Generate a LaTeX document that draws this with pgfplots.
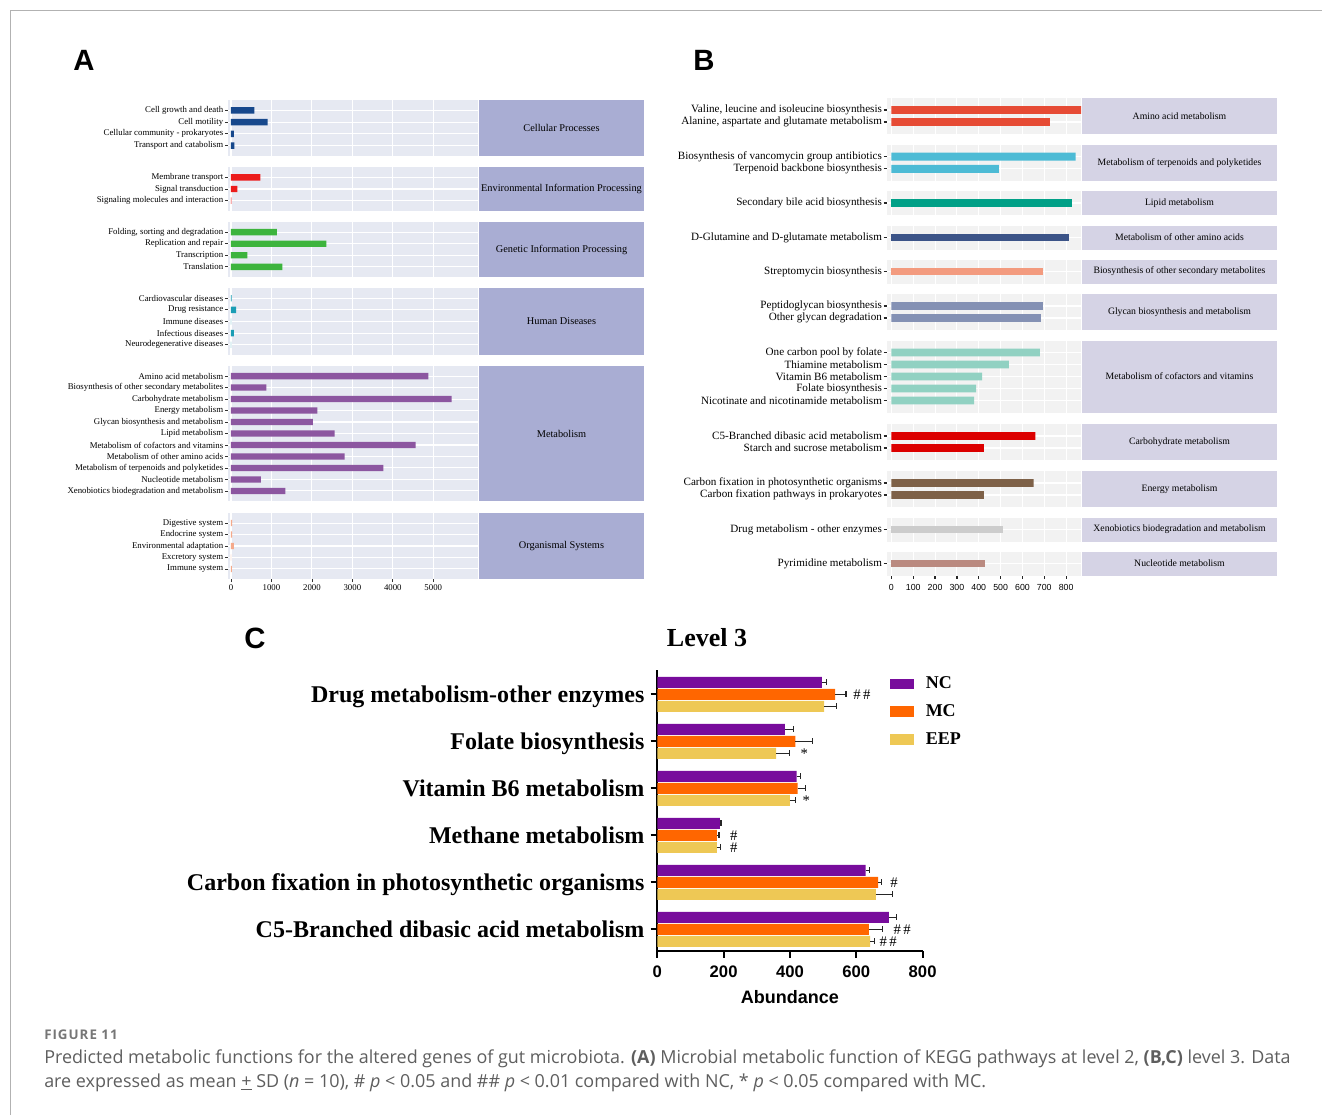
\documentclass[border=0pt]{standalone}
\usepackage{pgfplots}
\usepackage{pgfplotstable}
\pgfplotsset{compat=1.18}
\usepackage{fontspec}
\setmainfont{Liberation Serif}
\newfontfamily\arialf{Liberation Sans}
\newfontfamily\capf{Open Sans}
\newfontfamily\capwide[LetterSpace=7.5]{Open Sans}
\newcommand\fsz[1]{\fontsize{#1}{#1}\selectfont}

% panel backgrounds and facet strips
\definecolor{bgA}{HTML}{E6E9F2}
\definecolor{stripA}{HTML}{A9ADD3}
\definecolor{bgB}{HTML}{F2F2F2}
\definecolor{stripB}{HTML}{D5D3E5}
% level-2 groups
\definecolor{cpA}{HTML}{17488C}
\definecolor{envA}{HTML}{EC1C1C}
\definecolor{genA}{HTML}{3DB43D}
\definecolor{humA}{HTML}{1A9DB5}
\definecolor{metA}{HTML}{8C56A0}
\definecolor{orgA}{HTML}{F5A98A}
% level-3 groups
\definecolor{b1}{HTML}{E64B35}
\definecolor{b2}{HTML}{4DBBD5}
\definecolor{b3}{HTML}{00A087}
\definecolor{b4}{HTML}{3C5488}
\definecolor{b5}{HTML}{F39B7F}
\definecolor{b6}{HTML}{8491B4}
\definecolor{b7}{HTML}{91D1C2}
\definecolor{b8}{HTML}{DC0000}
\definecolor{b9}{HTML}{7E6148}
\definecolor{b10}{HTML}{CCCCCC}
\definecolor{b11}{HTML}{BA8A80}
% groups in panel C
\definecolor{ncC}{HTML}{780C9C}
\definecolor{mcC}{HTML}{FF6600}
\definecolor{eepC}{HTML}{EEC855}
\definecolor{capgray}{HTML}{5E5E5E}

\pgfplotsset{
  facetA/.style={
    scale only axis, anchor=north west, width=187.5pt,
    xmin=-74, xmax=6105, ymin=0.12, y dir=reverse,
    axis background/.style={fill=bgA},
    axis line style={draw=none},
    xmajorgrids, ymajorgrids,
    major grid style={white, line width=0.8pt},
    xtick={0,1000,2000,3000,4000,5000}, xticklabels={},
    tick pos=left, tick align=outside, major tick length=2.4pt,
    xtick style={draw=none},
    ytick style={draw=black!80, line width=0.6pt},
    yticklabel style={font=\fsz{6.6}, inner xsep=1pt},
    xbar, bar width=0.55,
  },
  facetB/.style={
    scale only axis, anchor=north west, width=145.5pt,
    xmin=-20, xmax=868, ymin=0, y dir=reverse,
    axis background/.style={fill=bgB},
    axis line style={draw=none},
    xmajorgrids, ymajorgrids,
    major grid style={white, line width=0.8pt},
    xtick={0,100,200,300,400,500,600,700,800}, xticklabels={},
    tick pos=left, tick align=outside, major tick length=2.6pt,
    xtick style={draw=none},
    ytick style={draw=black!85, line width=0.9pt},
    yticklabel style={font=\fsz{8.35}, inner xsep=1pt},
    xbar, bar width=0.66,
  },
}

\pgfplotstableread{
g m s
1 496 15
2 385 26
3 420 12
4 189 3
5 628 11
6 698 23
}\ncdata
\pgfplotstableread{
g m s
1 536 33
2 416 51
3 423 24
4 180 6
5 666 10
6 638 41
}\mcdata
\pgfplotstableread{
g m s
1 503 38
2 358 41
3 400 16
4 180 10
5 659 49
6 642 12
}\eepdata

\begin{document}
\begin{tikzpicture}[x=0.75pt,y=-0.75pt]
\path[use as bounding box] (0,0) rectangle (1322,1115);
\draw[black!30, line width=0.75pt] (10.5,1115) -- (10.5,10.5) -- (1322,10.5);

% anchor points of the facet panels (top-left corners)
\coordinate (A1) at (228,100);
\coordinate (A2) at (228,167);
\coordinate (A3) at (228,222);
\coordinate (A4) at (228,288);
\coordinate (A5) at (228,366);
\coordinate (A6) at (228,513);
\coordinate (B1) at (887,98);
\coordinate (B2) at (887,144.5);
\coordinate (B3) at (887,191);
\coordinate (B4) at (887,225.5);
\coordinate (B5) at (887,259.5);
\coordinate (B6) at (887,294);
\coordinate (B7) at (887,340.5);
\coordinate (B8) at (887,424);
\coordinate (B9) at (887,471);
\coordinate (B10) at (887,517.5);
\coordinate (B11) at (887,551.5);
\coordinate (C0) at (657.3,951);

% ---------------- A: level 2 ----------------
\node[font=\arialf\bfseries\fsz{22}] at (84,60) {A};

\begin{axis}[facetA, at={(A1)}, height=42pt, ymax=4.88,
  ytick={1,2,3,4},
  yticklabels={Cell growth and death, Cell motility, Cellular community - prokaryotes, Transport and catabolism}]
\addplot[fill=cpA, draw=none] coordinates {(580,1) (906,2) (74,3) (82,4)};
\end{axis}

\begin{axis}[facetA, at={(A2)}, height=33pt, ymax=3.88,
  ytick={1,2,3},
  yticklabels={Membrane transport, Signal transduction, Signaling molecules and interaction}]
\addplot[fill=envA, draw=none] coordinates {(725,1) (157,2) (12,3)};
\end{axis}

\begin{axis}[facetA, at={(A3)}, height=41.25pt, ymax=4.88,
  ytick={1,2,3,4},
  yticklabels={{Folding, sorting and degradation}, Replication and repair, Transcription, Translation}]
\addplot[fill=genA, draw=none] coordinates {(1137,1) (2356,2) (404,3) (1269,4)};
\end{axis}

\begin{axis}[facetA, at={(A4)}, height=50.25pt, ymax=5.88,
  ytick={1,2,3,4,5},
  yticklabels={Cardiovascular diseases, Drug resistance, Immune diseases, Infectious diseases, Neurodegenerative diseases}]
\addplot[fill=humA, draw=none] coordinates {(18,1) (124,2) (3,3) (74,4) (2,5)};
\end{axis}

\begin{axis}[facetA, at={(A5)}, height=101.25pt, ymax=11.88,
  ytick={1,...,11},
  yticklabels={Amino acid metabolism, Biosynthesis of other secondary metabolites, Carbohydrate metabolism, Energy metabolism, Glycan biosynthesis and metabolism, Lipid metabolism, Metabolism of cofactors and vitamins, Metabolism of other amino acids, Metabolism of terpenoids and polyketides, Nucleotide metabolism, Xenobiotics biodegradation and metabolism}]
\addplot[fill=metA, draw=none] coordinates {(4876,1) (873,2) (5453,3) (2133,4) (2026,5) (2562,6) (4563,7) (2809,8) (3764,9) (741,10) (1343,11)};
\end{axis}

\begin{axis}[facetA, at={(A6)}, height=49.5pt, ymax=5.88,
  ytick={1,2,3,4,5},
  yticklabels={Digestive system, Endocrine system, Environmental adaptation, Excretory system, Immune system},
  xticklabels={0,1000,2000,3000,4000,5000},
  xtick style={draw=black!80, line width=0.6pt},
  xticklabel style={font=\fsz{6.6}, inner ysep=1.5pt}]
\addplot[fill=orgA, draw=none] coordinates {(25,1) (30,2) (74,3) (3,4) (20,5)};
\end{axis}

\begin{scope}[every node/.style={font=\fsz{7.75}}]
\fill[stripA] (479,100) rectangle (644,156); \node at (561.5,128) {Cellular Processes};
\fill[stripA] (479,167) rectangle (644,211); \node at (561.5,189) {Environmental Information Processing};
\fill[stripA] (479,222) rectangle (644,277); \node at (561.5,249.5) {Genetic Information Processing};
\fill[stripA] (479,288) rectangle (644,355); \node at (561.5,321.5) {Human Diseases};
\fill[stripA] (479,366) rectangle (644,501); \node at (561.5,433.5) {Metabolism};
\fill[stripA] (479,513) rectangle (644,579); \node at (561.5,546) {Organismal Systems};
\end{scope}

% ---------------- B: level 3 ----------------
\node[font=\arialf\bfseries\fsz{22}] at (704,60) {B};

\begin{axis}[facetB, at={(B1)}, height=27pt, ymax=3, ytick={1,2},
  yticklabels={{Valine, leucine and isoleucine biosynthesis}, {Alanine, aspartate and glutamate metabolism}}]
\addplot[fill=b1, draw=none] coordinates {(868,1) (725,2)};
\end{axis}
\begin{axis}[facetB, at={(B2)}, height=27.4pt, ymax=3, ytick={1,2},
  yticklabels={Biosynthesis of vancomycin group antibiotics, Terpenoid backbone biosynthesis}]
\addplot[fill=b2, draw=none] coordinates {(843,1) (492,2)};
\end{axis}
\begin{axis}[facetB, at={(B3)}, height=18pt, ymax=2, ytick={1},
  yticklabels={Secondary bile acid biosynthesis}]
\addplot[fill=b3, draw=none] coordinates {(826,1)};
\end{axis}
\begin{axis}[facetB, at={(B4)}, height=18pt, ymax=2, ytick={1},
  yticklabels={D-Glutamine and D-glutamate metabolism}]
\addplot[fill=b4, draw=none] coordinates {(811,1)};
\end{axis}
\begin{axis}[facetB, at={(B5)}, height=18pt, ymax=2, ytick={1},
  yticklabels={Streptomycin biosynthesis}]
\addplot[fill=b5, draw=none] coordinates {(696,1)};
\end{axis}
\begin{axis}[facetB, at={(B6)}, height=27pt, ymax=3, ytick={1,2},
  yticklabels={Peptidoglycan biosynthesis, Other glycan degradation}]
\addplot[fill=b6, draw=none] coordinates {(693,1) (684,2)};
\end{axis}
\begin{axis}[facetB, at={(B7)}, height=54pt, ymax=6, ytick={1,...,5},
  yticklabels={One carbon pool by folate, Thiamine metabolism, Vitamin B6 metabolism, Folate biosynthesis, Nicotinate and nicotinamide metabolism}]
\addplot[fill=b7, draw=none] coordinates {(680,1) (538,2) (415,3) (388,4) (379,5)};
\end{axis}
\begin{axis}[facetB, at={(B8)}, height=27pt, ymax=3, ytick={1,2},
  yticklabels={C5-Branched dibasic acid metabolism, Starch and sucrose metabolism}]
\addplot[fill=b8, draw=none] coordinates {(659,1) (423,2)};
\end{axis}
\begin{axis}[facetB, at={(B9)}, height=27pt, ymax=3, ytick={1,2},
  yticklabels={Carbon fixation in photosynthetic organisms, Carbon fixation pathways in prokaryotes}]
\addplot[fill=b9, draw=none] coordinates {(651,1) (423,2)};
\end{axis}
\begin{axis}[facetB, at={(B10)}, height=18pt, ymax=2, ytick={1},
  yticklabels={Drug metabolism - other enzymes}]
\addplot[fill=b10, draw=none] coordinates {(512,1)};
\end{axis}
\begin{axis}[facetB, at={(B11)}, height=18pt, ymax=2, ytick={1},
  yticklabels={Pyrimidine metabolism},
  xticklabels={0,100,200,300,400,500,600,700,800},
  xtick style={draw=black!85, line width=0.9pt},
  xticklabel style={font=\arialf\fsz{6.6}, inner ysep=4pt}]
\addplot[fill=b11, draw=none] coordinates {(428,1)};
\end{axis}

\begin{scope}[every node/.style={font=\fsz{7.3}}]
\fill[stripB] (1082,98) rectangle (1277,134);    \node at (1179.5,116) {Amino acid metabolism};
\fill[stripB] (1082,144.5) rectangle (1277,181); \node at (1179.5,162.75) {Metabolism of terpenoids and polyketides};
\fill[stripB] (1082,191) rectangle (1277,215);   \node at (1179.5,203) {Lipid metabolism};
\fill[stripB] (1082,225.5) rectangle (1277,249.5); \node at (1179.5,237.5) {Metabolism of other amino acids};
\fill[stripB] (1082,259.5) rectangle (1277,283.5); \node at (1179.5,271.5) {Biosynthesis of other secondary metabolites};
\fill[stripB] (1082,294) rectangle (1277,330);   \node at (1179.5,312) {Glycan biosynthesis and metabolism};
\fill[stripB] (1082,340.5) rectangle (1277,412.5); \node at (1179.5,376.5) {Metabolism of cofactors and vitamins};
\fill[stripB] (1082,424) rectangle (1277,460);   \node at (1179.5,442) {Carbohydrate metabolism};
\fill[stripB] (1082,471) rectangle (1277,507);   \node at (1179.5,489) {Energy metabolism};
\fill[stripB] (1082,517.5) rectangle (1277,541.5); \node at (1179.5,529.5) {Xenobiotics biodegradation and metabolism};
\fill[stripB] (1082,551.5) rectangle (1277,575.5); \node at (1179.5,563.5) {Nucleotide metabolism};
\end{scope}

% ---------------- C: selected level-3 pathways ----------------
\node[font=\arialf\bfseries\fsz{22}] at (255,638) {C};
\node[font=\bfseries\fsz{19.5}] at (707,638) {Level 3};

\begin{axis}[at={(C0)}, anchor=south west, scale only axis,
  width=199pt, height=210.75pt,
  xmin=0, xmax=800, ymin=0.483, ymax=6.46, y dir=reverse,
  axis lines=left, axis line style={-, line width=1.5pt, black},
  xtick={0,200,400,600,800}, ytick={1,...,6},
  yticklabels={Drug metabolism-other enzymes, Folate biosynthesis, Vitamin B6 metabolism, Methane metabolism, Carbon fixation in photosynthetic organisms, C5-Branched dibasic acid metabolism},
  xticklabels={0,200,400,600,800},
  tick align=outside, major tick length=5pt,
  tick style={black, line width=1.5pt},
  yticklabel style={font=\bfseries\fsz{18}, inner xsep=4.5pt, text depth=0pt},
  xticklabel style={font=\arialf\bfseries\fsz{12.5}, inner ysep=6pt},
  xlabel={Abundance},
  xlabel style={font=\arialf\bfseries\fsz{13.5}, inner ysep=1pt, yshift=-2.5pt},
  xbar, bar width=0.234,
  legend style={at={(0.86,0.995)}, anchor=north west, draw=none, fill=none,
    font=\bfseries\fsz{13.5}, row sep=6.3pt, legend cell align=left},
  error bars/error bar style={black!85, line width=0.9pt},
  error bars/error mark=|,
  error bars/error mark options={black!85, line width=0.9pt, mark size=2.3pt},
  clip=false,
]
\addplot[fill=ncC, draw=none, bar shift=-0.255,
  legend image code/.code={\fill[ncC] (0pt,-4.1pt) rectangle (18pt,4.1pt); \path (25pt,0pt);},
  error bars/.cd, x dir=plus, x explicit]
  table[x=m, y=g, x error=s] {\ncdata};
\addlegendentry{NC}
\addplot[fill=mcC, draw=none, bar shift=0,
  legend image code/.code={\fill[mcC] (0pt,-4.1pt) rectangle (18pt,4.1pt); \path (25pt,0pt);},
  error bars/.cd, x dir=plus, x explicit]
  table[x=m, y=g, x error=s] {\mcdata};
\addlegendentry{MC}
\addplot[fill=eepC, draw=none, bar shift=0.255,
  legend image code/.code={\fill[eepC] (0pt,-4.1pt) rectangle (18pt,4.1pt); \path (25pt,0pt);},
  error bars/.cd, x dir=plus, x explicit]
  table[x=m, y=g, x error=s] {\eepdata};
\addlegendentry{EEP}

% significance marks
\begin{scope}[every node/.style={font=\fsz{11}, inner sep=0.5pt}]
\node at (axis cs:617,1) {\#\,\#};
\node at (axis cs:443,2.255) {*};
\node at (axis cs:449,3.255) {*};
\node at (axis cs:231,4) {\#};
\node at (axis cs:231,4.255) {\#};
\node at (axis cs:714,5) {\#};
\node at (axis cs:738,6) {\#\,\#};
\node at (axis cs:696,6.255) {\#\,\#};
\end{scope}
\end{axis}

% ---------------- caption ----------------
\node[anchor=base west, inner sep=0pt, font=\capwide\bfseries\fsz{10}, text=capgray!85] at (44,1039) {FIGURE 11};
\node[anchor=base west, inner sep=0pt, font=\capf\fsz{13.45}, text=capgray] at (44,1063)
  {Predicted metabolic functions for the altered genes of gut microbiota. \textbf{(A)} Microbial metabolic function of KEGG pathways at level 2, \textbf{(B,C)} level 3. Data};
\node[anchor=base west, inner sep=0pt, font=\capf\fsz{13.45}, text=capgray] at (44,1087)
  {are expressed as mean \underline{+} SD (\textit{n} = 10), \# \textit{p} < 0.05 and \#\# \textit{p} < 0.01 compared with NC, * \textit{p} < 0.05 compared with MC.};
\end{tikzpicture}
\end{document}
